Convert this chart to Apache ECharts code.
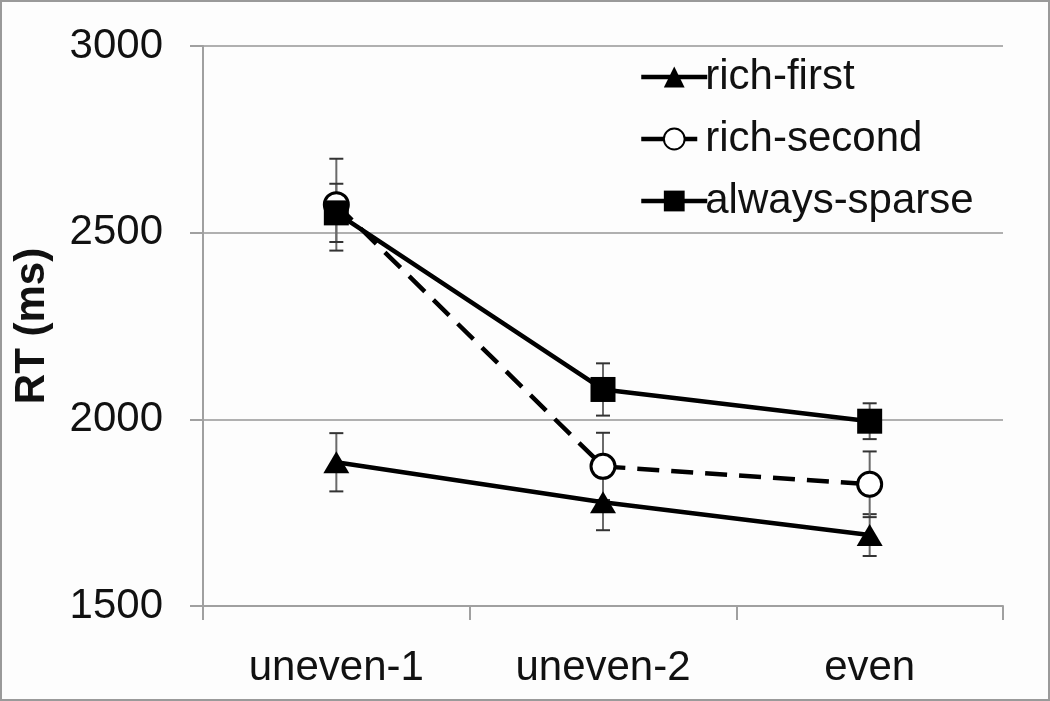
<!DOCTYPE html>
<html><head><meta charset="utf-8">
<script src="https://cdn.jsdelivr.net/npm/echarts@6/dist/echarts.min.js"></script>
<style>
html,body{margin:0;padding:0;background:#fff;}
#c{width:1050px;height:701px;box-sizing:border-box;border:2px solid #9a9a9a;background:#fdfdfd;}
</style></head>
<body><div id="c"></div>
<script>
const categories = ['uneven-1', 'uneven-2', 'even'];
const yTicks = [1500, 2000, 2500, 3000];
const richFirst = [1885, 1778, 1690];
const richFirstErr = [78, 75, 56];
const richSecond = [2575, 1874, 1826];
const richSecondErr = [123, 90, 88];
const alwaysSparse = [2553, 2080, 1995];
const alwaysSparseErr = [78, 70, 48];

const FONT = 'Liberation Sans';
const FS = 42;
const chart = echarts.init(document.getElementById('c'), null, {renderer: 'canvas'});

function errData(vals, errs) {
  return vals.map((v, i) => [i, v - errs[i], v + errs[i]]);
}
function errSeries(vals, errs) {
  return {
    type: 'custom',
    silent: true,
    z: 1,
    data: errData(vals, errs),
    renderItem: function (params, api) {
      const lo = api.coord([api.value(0), api.value(1)]);
      const hi = api.coord([api.value(0), api.value(2)]);
      const w = 7;
      const st = {stroke: '#6a6a6a', lineWidth: 2};
      return {type: 'group', children: [
        {type: 'line', shape: {x1: hi[0], y1: hi[1], x2: lo[0], y2: lo[1]}, style: st},
        {type: 'line', shape: {x1: hi[0] - w, y1: hi[1], x2: hi[0] + w, y2: hi[1]}, style: {stroke: '#333', lineWidth: 2}},
        {type: 'line', shape: {x1: lo[0] - w, y1: lo[1], x2: lo[0] + w, y2: lo[1]}, style: {stroke: '#333', lineWidth: 2}}
      ]};
    }
  };
}

chart.setOption({
  animation: false,
  textStyle: {fontFamily: FONT},
  grid: {left: 201, right: 45, top: 44, bottom: 93, containLabel: false},
  legend: {
    orient: 'vertical', left: 632, top: 49,
    itemWidth: 66, itemHeight: 26, itemGap: 20,
    lineStyle: {width: 4.5, color: '#000'},
    textStyle: {fontFamily: FONT, fontSize: FS, color: '#111', padding: [0, 0, 0, -7]},
    data: ['rich-first', 'rich-second', 'always-sparse']
  },
  xAxis: {
    type: 'category', data: categories, boundaryGap: true,
    axisLine: {lineStyle: {color: '#a0a0a0', width: 2}},
    axisTick: {show: true, length: 14, lineStyle: {color: '#a0a0a0', width: 2}},
    axisLabel: {fontFamily: FONT, fontSize: FS, color: '#111', margin: 41},
    splitLine: {show: false}
  },
  yAxis: {
    type: 'value', min: yTicks[0], max: yTicks[yTicks.length - 1], interval: 500,
    name: 'RT (ms)', nameLocation: 'middle', nameGap: 150, nameRotate: 90,
    nameTextStyle: {fontFamily: FONT, fontSize: FS, fontWeight: 'bold', color: '#111'},
    axisLine: {show: true, lineStyle: {color: '#a0a0a0', width: 2}},
    axisTick: {show: true, length: 13, lineStyle: {color: '#a0a0a0', width: 2}},
    axisLabel: {fontFamily: FONT, fontSize: FS, color: '#111', margin: 40, formatter: v => String(v)},
    splitLine: {lineStyle: {color: '#b0b0b0', width: 2}}
  },
  series: [
    errSeries(richFirst, richFirstErr),
    errSeries(richSecond, richSecondErr),
    errSeries(alwaysSparse, alwaysSparseErr),
    {
      name: 'rich-first', type: 'line', data: richFirst, z: 3,
      symbol: 'triangle', symbolSize: [26, 22],
      lineStyle: {color: '#000', width: 4.5},
      itemStyle: {color: '#000'}
    },
    {
      name: 'rich-second', type: 'line', data: richSecond, z: 3,
      symbol: 'circle', symbolSize: 24,
      lineStyle: {color: '#000', width: 4.5, type: [22, 12]},
      itemStyle: {color: '#fff', borderColor: '#000', borderWidth: 3}
    },
    {
      name: 'always-sparse', type: 'line', data: alwaysSparse, z: 3,
      symbol: 'rect', symbolSize: 25,
      lineStyle: {color: '#000', width: 4.5},
      itemStyle: {color: '#000'}
    }
  ]
});
</script></body></html>
